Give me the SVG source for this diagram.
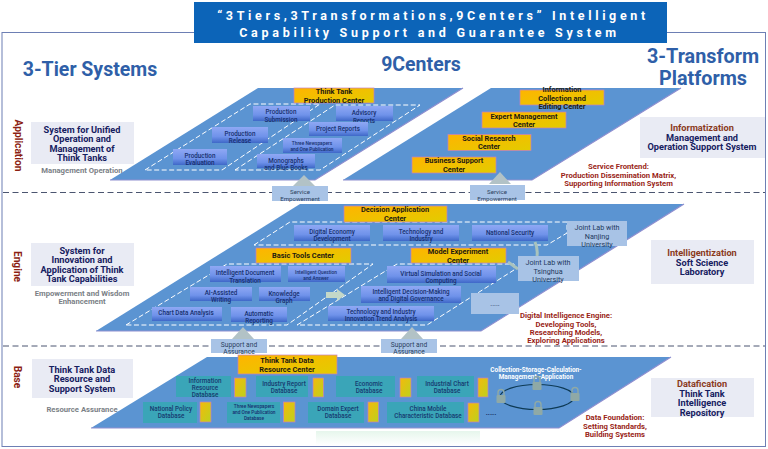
<svg xmlns="http://www.w3.org/2000/svg" width="768" height="449" viewBox="0 0 768 449">
<defs>
<linearGradient id="gBlue" x1="0" y1="0" x2="0" y2="1"><stop offset="0" stop-color="#8fa8f4"/><stop offset="0.6" stop-color="#6f92ea"/><stop offset="1" stop-color="#3f68c8"/></linearGradient>
<linearGradient id="gGold" x1="0" y1="0" x2="1" y2="1"><stop offset="0" stop-color="#ffb400"/><stop offset="1" stop-color="#e2cc00"/></linearGradient>
<linearGradient id="gTab" x1="0" y1="0" x2="1" y2="1"><stop offset="0" stop-color="#f5b90c"/><stop offset="1" stop-color="#bcd21c"/></linearGradient>
<linearGradient id="gFade" x1="0" y1="0" x2="0" y2="1"><stop offset="0" stop-color="#e6f6ec"/><stop offset="1" stop-color="#ffffff"/></linearGradient>
<g id="lock"><path d="M-3-3v-2.500a3 3 0 0 1 6 0V-3" fill="none" stroke="#8fa9a6" stroke-width="1.400"/><rect x="-4.500" y="-3" width="9" height="8" rx="1" fill="#8fa9a6"/></g>
</defs>
<style>
text{font-family:Roboto,"Liberation Sans",sans-serif;text-anchor:middle}
.plat{fill:#5b94d2}
.edge{fill:none;stroke:#8f8fd0;stroke-width:1.200}
.dash{fill:none;stroke:#fff;stroke-width:1;stroke-dasharray:5 2.500}
.sep{fill:none;stroke:#4b5570;stroke-width:1;stroke-dasharray:6 3.500}
.node{fill:url(#gBlue)}
.nt{font-size:6.300px;font-weight:500;fill:#16306e}
.nts{font-size:4.800px;font-weight:500;fill:#16306e}
.gold{fill:url(#gGold);stroke:#c77fc0;stroke-width:.7}
.gt{font-size:7.400px;font-weight:700;fill:#1e1a10}
.lab{fill:#a8c3e6}
.lt{font-size:6.700px;fill:#2b3f60}
.lts{font-size:6.100px;fill:#2b3f60}
.jt{font-size:7.200px;fill:#1f3a60}
.tri{fill:#b2c2c6}
.teal{fill:#3aa5b8}
.tt{font-size:6.300px;font-weight:500;fill:#163a70}
.tab{fill:url(#gTab);stroke:#c77fc0;stroke-width:.7}
.panel{fill:#e9ebf4}
.pt{font-size:9.200px;font-weight:700;fill:#16205f}
.pr{font-size:9.200px;font-weight:700;fill:#8a3a1c}
.sub{font-size:7.700px;font-weight:700;fill:#7b7f86}
.side{font-size:10.200px;font-weight:700;fill:#8c1f14}
.red{font-size:7.700px;font-weight:700;fill:#9a1f18}
.head{font-weight:700;fill:#2f5fa8}
</style>

<rect id="frame" x="2" y="32.500" width="763.500" height="414" fill="#fff" stroke="#6d7fb4" stroke-width="1"/>
<polygon points="316,431 480,431 480,445 316,445" fill="url(#gFade)"/>

<g id="title">
<rect x="194" y="2" width="473" height="41" fill="#0c64b8"/>
<text x="433" y="20" font-size="12.500" font-weight="700" fill="#fff" letter-spacing="3.650">“3Tiers,3Transformations,9Centers” Intelligent</text>
<text x="429.500" y="37" font-size="12.500" font-weight="700" fill="#fff" letter-spacing="3.750">Capability Support and Guarantee System</text>
</g>

<g id="headers">
<text class="head" x="90" y="76" font-size="19.500">3-Tier Systems</text>
<text class="head" x="421" y="71" font-size="19.500">9Centers</text>
<text class="head" x="703" y="63" font-size="19.800">3-Transform</text>
<text class="head" x="703" y="85" font-size="19.800">Platforms</text>
</g>

<g id="platforms">
<polygon class="plat" points="110,180 258,88 463,88 315,180"/>
<polygon class="plat" points="343,180 491,88 681,88 532,180"/>
<polygon class="plat" points="96,331 300,204 684,204 481,331"/>
<polygon class="plat" points="91,428 207,357 671,357 559,428"/>
<path class="edge" d="M110,180H315L463,88M343,180H532L681,88M96,331H481L684,204M91,428H559L671,357"/>
</g>

<g id="connectors">
<line class="sep" x1="3" y1="192.500" x2="765" y2="192.500"/>
<line class="sep" x1="3" y1="346" x2="765" y2="346"/>
<polygon class="dash" points="145,170 250,104 320,104 222,170"/>
<polygon class="dash" points="235,170 335,105 420,105 320,170"/>
<polygon class="dash" points="254,245 290,222 567,222 567,233 547,245"/>
<polygon class="dash" points="126,325 227,264 373,264 287,325"/>
<polygon class="dash" points="297,325 397,264 514,264 514,270 427,325"/>
<polygon class="tri" points="304,175 293,186 315,186"/>
<polygon class="tri" points="500,172 489,184 511,184"/>
<polygon class="tri" points="243,327 232,339 254,339"/>
<polygon class="tri" points="412,327 401,339 423,339"/>
<path d="M535,242q3,7 2,14" fill="none" stroke="#a9c3bd" stroke-width="3"/>
<path d="M508,262l10,7" fill="none" stroke="#a9c3bd" stroke-width="3"/>
<polygon points="326,292 337,292 337,289 345,295 337,301 337,298 326,298" fill="#c4d8c8"/>
</g>

<g id="n-think-tank-production"><rect class="gold" x="294" y="88" width="80" height="15"/><text class="gt" x="334" y="94">Think Tank</text><text class="gt" x="334" y="102.500">Production Center</text></g>
<g id="n-production-submission"><rect class="node" x="253" y="106" width="57" height="15"/><text class="nt" x="281" y="114">Production</text><text class="nt" x="281" y="121.500">Submission</text></g>
<g id="n-advisory-reports"><rect class="node" x="336" y="106" width="57" height="15"/><text class="nt" x="364" y="115">Advisory</text><text class="nt" x="364" y="122.500">Reports</text></g>
<g id="n-project-reports"><rect class="node" x="309" y="122" width="59" height="14"/><text class="nt" x="338" y="130.500">Project Reports</text></g>
<g id="n-production-release"><rect class="node" x="212" y="127" width="56" height="16"/><text class="nt" x="240" y="135.500">Production</text><text class="nt" x="240" y="142.500">Release</text></g>
<g id="n-three-newspapers"><rect class="node" x="283" y="138" width="59" height="15"/><text class="nts" x="312" y="145">Three Newspapers</text><text class="nts" x="312" y="151">and One Publication</text></g>
<g id="n-production-evaluation"><rect class="node" x="173" y="149" width="54" height="16"/><text class="nt" x="200" y="157.500">Production</text><text class="nt" x="200" y="164.500">Evaluation</text></g>
<g id="n-monographs"><rect class="node" x="257" y="154" width="58" height="14"/><text class="nt" x="286" y="162.500">Monographs</text><text class="nt" x="286" y="169.500">and Blue Books</text></g>

<g id="n-info-collection"><rect class="gold" x="520" y="90" width="84" height="15"/><text class="gt" x="562" y="92">Information</text><text class="gt" x="562" y="100.500">Collection and</text><text class="gt" x="562" y="109">Editing Center</text></g>
<g id="n-expert-management"><rect class="gold" x="482" y="112" width="84" height="16"/><text class="gt" x="524" y="118.500">Expert Management</text><text class="gt" x="524" y="127">Center</text></g>
<g id="n-social-research"><rect class="gold" x="448" y="134.500" width="83" height="16"/><text class="gt" x="489" y="140.500">Social Research</text><text class="gt" x="489" y="149">Center</text></g>
<g id="n-business-support"><rect class="gold" x="412" y="157" width="84" height="16"/><text class="gt" x="454" y="163">Business Support</text><text class="gt" x="454" y="172">Center</text></g>

<g id="n-service-1"><rect class="lab" x="272" y="186" width="56" height="15"/><text class="lts" x="300" y="194">Service</text><text class="lts" x="300" y="201">Empowerment</text></g>
<g id="n-service-2"><rect class="lab" x="470" y="185" width="55" height="15"/><text class="lts" x="497" y="194">Service</text><text class="lts" x="497" y="201">Empowerment</text></g>

<g id="n-decision"><rect class="gold" x="344" y="206" width="103" height="16"/><text class="gt" x="395" y="212">Decision Application</text><text class="gt" x="395" y="221">Center</text></g>
<g id="n-digital-economy"><rect class="node" x="294" y="225" width="76" height="16"/><text class="nt" x="332" y="233.500">Digital Economy</text><text class="nt" x="332" y="240.500">Development</text></g>
<g id="n-technology-industry"><rect class="node" x="383" y="225" width="76" height="16"/><text class="nt" x="421" y="233.500">Technology and</text><text class="nt" x="421" y="240.500">Industry</text></g>
<g id="n-national-security"><rect class="node" x="472" y="225" width="76" height="16"/><text class="nt" x="510" y="234.500">National Security</text></g>
<g id="n-nanjing"><rect class="lab" x="567" y="221" width="60" height="25"/><text class="jt" x="597" y="230">Joint Lab with</text><text class="jt" x="597" y="238.500">Nanjing</text><text class="jt" x="597" y="247">University</text></g>
<g id="n-basic-tools"><rect class="gold" x="256" y="248" width="95" height="15"/><text class="gt" x="303" y="258">Basic Tools Center</text></g>
<g id="n-model-experiment"><rect class="gold" x="411" y="248" width="95" height="15"/><text class="gt" x="458" y="254">Model Experiment</text><text class="gt" x="458" y="263">Center</text></g>
<g id="n-tsinghua"><rect class="lab" x="518" y="256" width="61" height="25"/><text class="jt" x="548" y="265">Joint Lab with</text><text class="jt" x="548" y="273.500">Tsinghua</text><text class="jt" x="548" y="282">University</text></g>
<g id="n-doc-translation"><rect class="node" x="210" y="266" width="71" height="16"/><text class="nt" x="245" y="275">Intelligent Document</text><text class="nt" x="245" y="282.500">Translation</text></g>
<g id="n-question-answer"><rect class="node" x="288" y="266" width="57" height="16"/><text class="nts" x="316" y="274">Intelligent Question</text><text class="nts" x="316" y="280">and Answer</text></g>
<g id="n-ai-writing"><rect class="node" x="190" y="287" width="62" height="14"/><text class="nt" x="221" y="295">AI-Assisted</text><text class="nt" x="221" y="302">Writing</text></g>
<g id="n-knowledge-graph"><rect class="node" x="259" y="287" width="51" height="14"/><text class="nt" x="284" y="296">Knowledge</text><text class="nt" x="284" y="303">Graph</text></g>
<g id="n-chart-analysis"><rect class="node" x="152" y="307" width="70" height="14"/><text class="nt" x="186" y="315">Chart Data Analysis</text></g>
<g id="n-auto-reporting"><rect class="node" x="231" y="307" width="56" height="15"/><text class="nt" x="259" y="315.500">Automatic</text><text class="nt" x="259" y="322.500">Reporting</text></g>
<g id="n-virtual-simulation"><rect class="node" x="387" y="266" width="109" height="17"/><text class="nt" x="441" y="275.500">Virtual Simulation and Social</text><text class="nt" x="441" y="282.500">Computing</text></g>
<g id="n-decision-making"><rect class="node" x="361" y="286" width="100" height="17"/><text class="nt" x="411" y="294">Intelligent Decision-Making</text><text class="nt" x="411" y="301">and Digital Governance</text></g>
<g id="n-trend-analysis"><rect class="node" x="328" y="306" width="106" height="15"/><text class="nt" x="381" y="314">Technology and Industry</text><text class="nt" x="381" y="321">Innovation Trend Analysis</text></g>
<g id="n-ellipsis-engine"><rect class="lab" x="471" y="293" width="48" height="21"/><text class="jt" x="495" y="306">.....</text></g>
<g id="n-support-1"><rect class="lab" x="211" y="339" width="56" height="14"/><text class="lt" x="239" y="347">Support and</text><text class="lt" x="239" y="354">Assurance</text></g>
<g id="n-support-2"><rect class="lab" x="381" y="339" width="56" height="14"/><text class="lt" x="409" y="347">Support and</text><text class="lt" x="409" y="354">Assurance</text></g>

<g id="n-data-resource"><rect class="gold" x="238" y="355" width="99" height="19"/><text class="gt" x="287" y="363">Think Tank Data</text><text class="gt" x="287" y="371.500">Resource Center</text></g>
<g id="n-info-resource-db"><rect class="teal" x="176" y="376" width="55" height="21"/><rect class="tab" x="234.500" y="378" width="11.500" height="19"/><text class="tt" x="205" y="383">Information</text><text class="tt" x="205" y="390">Resource</text><text class="tt" x="205" y="397">Database</text></g>
<g id="n-industry-report-db"><rect class="teal" x="256" y="376" width="52" height="21"/><rect class="tab" x="313" y="378" width="10.500" height="19"/><text class="tt" x="284" y="386">Industry Report</text><text class="tt" x="284" y="393">Database</text></g>
<g id="n-economic-db"><rect class="teal" x="336" y="376" width="59" height="21"/><rect class="tab" x="400" y="378" width="11" height="19"/><text class="tt" x="369" y="386">Economic</text><text class="tt" x="369" y="393">Database</text></g>
<g id="n-chart-db"><rect class="teal" x="417" y="376" width="57" height="21"/><rect class="tab" x="478" y="378" width="10" height="19"/><text class="tt" x="447" y="386">Industrial Chart</text><text class="tt" x="447" y="393">Database</text></g>
<g id="n-policy-db"><rect class="teal" x="143" y="402" width="54" height="21"/><rect class="tab" x="200" y="402" width="11" height="20"/><text class="tt" x="171" y="411">National Policy</text><text class="tt" x="171" y="418">Database</text></g>
<g id="n-newspapers-db"><rect class="teal" x="227" y="402" width="53" height="21"/><rect class="tab" x="283.500" y="402" width="11.500" height="20"/><text class="nts" x="254" y="408">Three Newspapers</text><text class="nts" x="254" y="414">and One Publication</text><text class="nts" x="254" y="420">Database</text></g>
<g id="n-expert-db"><rect class="teal" x="308" y="402" width="56" height="21"/><rect class="tab" x="368" y="402" width="10.500" height="20"/><text class="tt" x="338" y="411">Domain Expert</text><text class="tt" x="338" y="418">Database</text></g>
<g id="n-mobile-db"><rect class="teal" x="387" y="402" width="77" height="21"/><rect class="tab" x="468" y="403" width="11" height="19"/><text class="tt" x="428" y="411">China Mobile</text><text class="tt" x="428" y="418">Characteristic Database</text></g>
<text x="491" y="415" font-size="7.400" font-weight="700" fill="#16305f">.....</text>

<g id="n-csm-ring">
<text x="536" y="371.500" font-size="6.400" font-weight="700" fill="#fff">Collection-Storage-Calculation-</text>
<text x="536" y="378.500" font-size="6.400" font-weight="700" fill="#fff">Management -Application</text>
<ellipse cx="537" cy="397" rx="37" ry="12.500" fill="none" stroke="#0e3a55" stroke-width="1.200"/>
<use href="#lock" x="501" y="398"/><use href="#lock" x="537" y="385"/><use href="#lock" x="575" y="396"/><use href="#lock" x="538" y="410"/>
</g>

<g id="tier-application">
<text class="side" transform="translate(15,145.500) rotate(90)">Application</text>
<rect class="panel" x="31" y="122" width="103" height="42"/>
<text class="pt" x="82" y="132.500">System for Unified</text><text class="pt" x="82" y="142">Operation and</text><text class="pt" x="82" y="151.500">Management of</text><text class="pt" x="82" y="161">Think Tanks</text>
<text class="sub" x="82" y="173">Management Operation</text>
</g>
<g id="tier-engine">
<text class="side" transform="translate(14,266.500) rotate(90)">Engine</text>
<rect class="panel" x="31" y="243" width="103" height="43"/>
<text class="pt" x="82" y="253.500">System for</text><text class="pt" x="82" y="263">Innovation and</text><text class="pt" x="82" y="272.500">Application of Think</text><text class="pt" x="82" y="282">Tank Capabilities</text>
<text class="sub" x="82" y="295.500">Empowerment and Wisdom</text><text class="sub" x="82" y="304">Enhancement</text>
</g>
<g id="tier-base">
<text class="side" transform="translate(14,377) rotate(90)">Base</text>
<rect class="panel" x="32" y="359" width="101" height="39"/>
<text class="pt" x="82" y="372.500">Think Tank Data</text><text class="pt" x="82" y="382">Resource and</text><text class="pt" x="82" y="391.500">Support System</text>
<text class="sub" x="82" y="412">Resource Assurance</text>
</g>

<g id="platform-info">
<rect class="panel" x="640" y="117" width="125" height="41"/>
<text class="pr" x="702" y="131">Informatization</text><text class="pt" x="702" y="140.500">Management and</text><text class="pt" x="702" y="150">Operation Support System</text>
</g>
<g id="platform-intel">
<rect class="panel" x="651" y="240" width="103" height="44"/>
<text class="pr" x="702" y="256">Intelligentization</text><text class="pt" x="702" y="265.500">Soft Science</text><text class="pt" x="702" y="275">Laboratory</text>
</g>
<g id="platform-data">
<rect class="panel" x="651" y="378" width="103" height="39"/>
<text class="pr" x="702" y="387">Datafication</text><text class="pt" x="702" y="396.500">Think Tank</text><text class="pt" x="702" y="406">Intelligence</text><text class="pt" x="702" y="415.500">Repository</text>
</g>

<g id="notes">
<text class="red" x="618.500" y="169">Service Frontend:</text><text class="red" x="618.500" y="177.500">Production Dissemination Matrix,</text><text class="red" x="618.500" y="186">Supporting Information System</text>
<text class="red" x="566" y="318">Digital Intelligence Engine:</text><text class="red" x="566" y="326.500">Developing Tools,</text><text class="red" x="566" y="334.500">Researching Models,</text><text class="red" x="566" y="343">Exploring Applications</text>
<text class="red" x="615" y="420">Data Foundation:</text><text class="red" x="615" y="428.500">Setting Standards,</text><text class="red" x="615" y="437">Building Systems</text>
</g>
</svg>
